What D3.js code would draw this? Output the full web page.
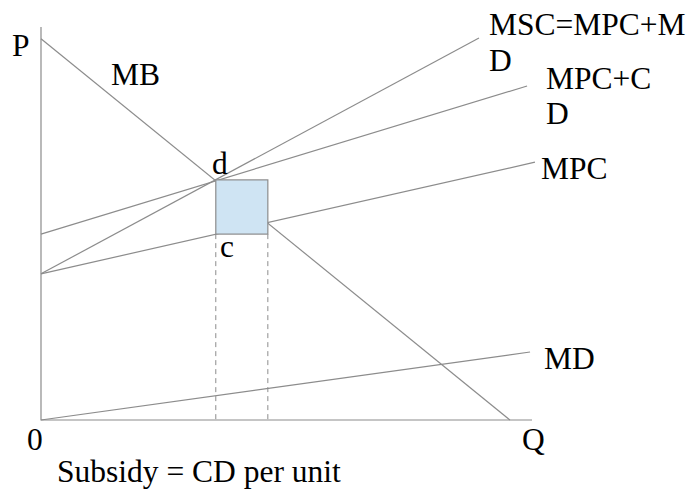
<!DOCTYPE html>
<html>
<head>
<meta charset="utf-8">
<script src="https://cdn.jsdelivr.net/npm/d3@7"></script>
<style>
  html, body { margin: 0; padding: 0; background: #fff; }
</style>
</head>
<body>
<svg id="chart" width="689" height="490"></svg>
<script>
// ---- Data (abstract Q / P units) ----
const curveNames = ["MB", "MSC", "MPC+CD", "MPC", "MD"];
const curveStart = [[0, 97], [0, 37.2], [0, 47.3], [0, 37.2], [0, 0]];
const curveEnd   = [[95.5, 0], [89.2, 97.2], [99, 85], [100.6, 65.6], [99.6, 17.3]];
const subsidyQ = [35.6, 46.2];   // quantity range of the subsidy box
const subsidyP = [47.3, 61.1];   // price range (c to d)
const axisQ = [0, 100];
const axisP = [0, 100];

// text labels
const labelTexts = ["P", "MB", "MSC=MPC+M", "D", "MPC+C", "D", "MPC", "MD", "0", "Q", "d", "c", "Subsidy = CD per unit"];

// ---- Layout ----
const svg = d3.select("#chart");
const x = d3.scaleLinear().domain([0, 100]).range([41, 532]);
const y = d3.scaleLinear().domain([0, 100]).range([420, 27]);
const lineColor = "#8c8c8c";
const line = d3.line().x(d => x(d[0])).y(d => y(d[1]));

// axes
svg.append("path").attr("d", line([[axisQ[0], axisP[1]], [axisQ[0], axisP[0]], [axisQ[1], axisP[0]]]))
  .attr("fill", "none").attr("stroke", lineColor).attr("stroke-width", 1.2);

// dashed drop lines
subsidyQ.forEach(q => {
  svg.append("path").attr("d", line([[q, subsidyP[0]], [q, 0]]))
    .attr("fill", "none").attr("stroke", lineColor).attr("stroke-width", 1)
    .attr("stroke-dasharray", "5,4");
});

// curves
curveNames.forEach((n, i) => {
  svg.append("path").attr("d", line([curveStart[i], curveEnd[i]]))
    .attr("fill", "none").attr("stroke", lineColor).attr("stroke-width", 1.2)
    .attr("class", "curve-" + i);
});

// subsidy rectangle (drawn over the curves)
svg.append("rect")
  .attr("x", x(subsidyQ[0])).attr("y", y(subsidyP[1]))
  .attr("width", x(subsidyQ[1]) - x(subsidyQ[0]))
  .attr("height", y(subsidyP[0]) - y(subsidyP[1]))
  .attr("fill", "#cfe4f3").attr("stroke", lineColor).attr("stroke-width", 1.2);

// labels (pixel layout)
const labelPos = [[12, 56], [111, 85], [489, 35], [489, 71], [546, 89], [546, 124], [541, 179], [544, 369], [27, 450], [522, 450], [212, 174], [220, 257], [57, 482]];
labelTexts.forEach((t, i) => {
  svg.append("text").attr("x", labelPos[i][0]).attr("y", labelPos[i][1])
    .attr("font-family", "'Liberation Serif', 'DejaVu Serif', serif")
    .attr("font-size", 31.5).attr("fill", "#000").text(t);
});
</script>
</body>
</html>
